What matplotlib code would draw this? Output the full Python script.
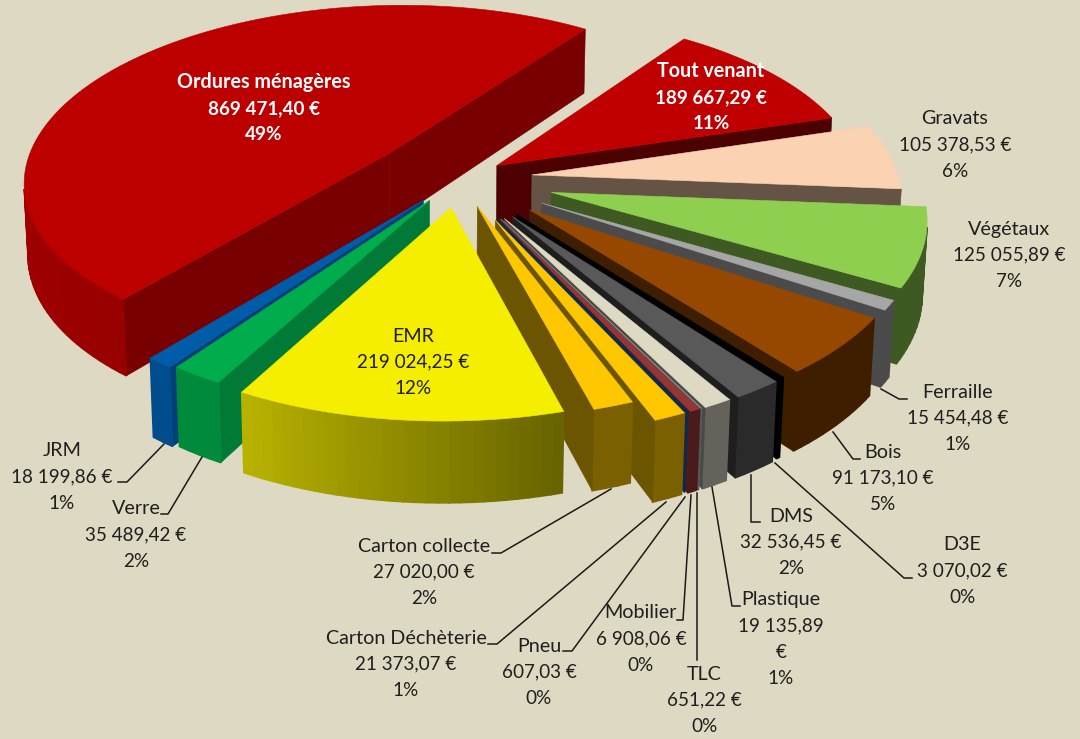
import numpy as np
import matplotlib
matplotlib.use('Agg')
import matplotlib.pyplot as plt

# data
names = ['Tout venant','Gravats','Végétaux','Ferraille','Bois','D3E','DMS','Plastique','TLC','Mobilier','Pneu',
         'Carton Déchèterie','Carton collecte','EMR','Verre','JRM','Ordures ménagères']
values = [189667.29,105378.53,125055.89,15454.48,91173.10,3070.02,32536.45,19135.89,651.22,6908.06,607.03,
          21373.07,27020.00,219024.25,35489.42,18199.86,869471.40]

# slice styles
top_col = ['#C00000','#FBD2B2','#8ECF50','#A6A6A6','#974800','#000000','#595959','#DDD9C3','#8A8A8A','#943634','#0F2C50',
           '#FFC700','#FFC700','#F5EE00','#00AD4C','#005CA8','#BC0000']
flat_col = ['#4D0000','#655345','#3E5A22','#4B4B4B','#3F1E00','#000000','#1E1E1E','#4A4A45','#4A4A4A','#4A1B1A','#10284A',
            '#6B5500','#6B5500','#6B6700','#007A36','#003F78','#780000']
arc_col0 = ['#4D0000','#655345','#3E5A22','#4B4B4B','#3F1E00','#000000','#2A2A2A','#64625B','#5A5A5A','#4A1B1A','#10284A',
            '#7A6000','#7A6000','#686400','#008A3C','#004C8C','#980000']
arc_col1 = ['#4D0000','#655345','#3E5A22','#4B4B4B','#3F1E00','#000000','#2A2A2A','#64625B','#5A5A5A','#4A1B1A','#10284A',
            '#7A6000','#7A6000','#BAB500','#008A3C','#004C8C','#C00000']
explode = [0.1288,0.2015,0.2627,0.2623,0.2592,0.2531,0.2565,0.2536,0.2513,0.2518,0.2447,0.2508,0.1632,0.1638,0.1439,0.1528,0.2448]
paint_order = [16,15,14,0,1,2,3,4,5,6,7,8,9,10,11,12,13]

# projection of the tilted pie onto the picture
cam = [261.278,266.137,-4.22461,458.544,85.8716,-123.55,-73.5719,178.689,-0.0793581,0.112526,-0.00975674]

# label centre x, y of first line
label_x = [711,955,1009,958,883,962,791,781,704,641,539,406,424,413,136,62,264]
label_y = [71,119,229,392,452,545,516,600,674,613,646,638,546,336,509,451,82]
leaders = [[(881,389),(899,399),(907,399)],
           [(833,432),(853,459),(860,459)],
           [(751,475),(751,522),(760,522)],
           [(775,463),(904,578),(912,578)],
           [(712,487),(732,606),(740,606)],
           [(697,493),(697,660)],
           [(691,495),(683,620),(677,620)],
           [(685,497),(572,651),(563,651)],
           [(666,502),(497,644),(488,644)],
           [(611,489),(501,553),(492,553)],
           [(202,457),(168,514),(161,514)],
           [(164,444),(127,482),(118,482)]]

bg = '#DDD9C3'


def proj(X, Y, Z):
    p = cam
    w = p[8]*X+p[9]*Y+p[10]*Z+1
    return (p[0]*X+p[1]*Y+p[2]*Z+p[3])/w, (p[4]*X+p[5]*Y+p[6]*Z+p[7])/w


def area(x, y):
    return 0.5*np.sum(x*np.roll(y,-1)-np.roll(x,-1)*y)


def mix(c0, c1, t):
    a = np.array(matplotlib.colors.to_rgb(c0))
    b = np.array(matplotlib.colors.to_rgb(c1))
    return tuple(a+(b-a)*t)


def draw_slice(ax, i, a0, a1):
    mid = (a0+a1)/2
    tx = explode[i]*np.sin(mid)
    ty = explode[i]*np.cos(mid)
    nseg = max(2, int(np.degrees(a1-a0)/1.5))
    t = np.linspace(a0, a1, nseg+1)
    X = np.r_[tx, tx+np.sin(t)]
    Y = np.r_[ty, ty+np.cos(t)]
    xt, yt = proj(X, Y, 0)
    xb, yb = proj(X, Y, -1)
    s = area(xt, yt)
    for k in range(len(X)):
        j = (k+1) % len(X)
        qx = np.array([xt[k],xt[j],xb[j],xb[k]])
        qy = np.array([yt[k],yt[j],yb[j],yb[k]])
        if area(qx, qy)*s < 0:
            if k == 0 or k == len(X)-1:
                ax.fill(qx, qy, fc=flat_col[i], ec=flat_col[i], lw=0.4)
            else:
                col = mix(arc_col0[i], arc_col1[i], (k-1)/nseg)
                ax.fill(qx, qy, fc=col, ec=col, lw=1.2)
    ax.fill(xt, yt, fc=top_col[i], ec=top_col[i], lw=0.4)


def money(v):
    s = f'{v:,.2f}'.replace(',', ' ').replace('.', ',')
    return s+' €'


fig = plt.figure(figsize=(10.8,7.39), dpi=100, facecolor=bg)
ax = fig.add_axes([0,0,1,1])
ax.set_xlim(0,1080)
ax.set_ylim(739,0)
ax.axis('off')

ang = np.cumsum(np.r_[0,values])/np.sum(values)*2*np.pi
for i in paint_order:
    draw_slice(ax, i, ang[i], ang[i+1])

for line in leaders:
    xs, ys = zip(*line)
    ax.plot(xs, ys, color='#1a1a1a', lw=1.1)

total = np.sum(values)
for i, name in enumerate(names):
    lines = [name, money(values[i]), f'{100*values[i]/total:.0f}%']
    if name == 'Plastique':
        lines = [name, money(values[i])[:-2], '€', lines[2]]
    bold = i in (0, 16)
    for j, s in enumerate(lines):
        size = 14.2 if j == 0 else 13.6
        ax.text(label_x[i], label_y[i]+j*26.3, s, ha='center', va='center', fontsize=size,
                family='Lato', color='white' if bold else '#1f1f1f',
                fontweight='bold' if bold else 'normal')

fig.savefig('out.png', dpi=100, facecolor=bg)
